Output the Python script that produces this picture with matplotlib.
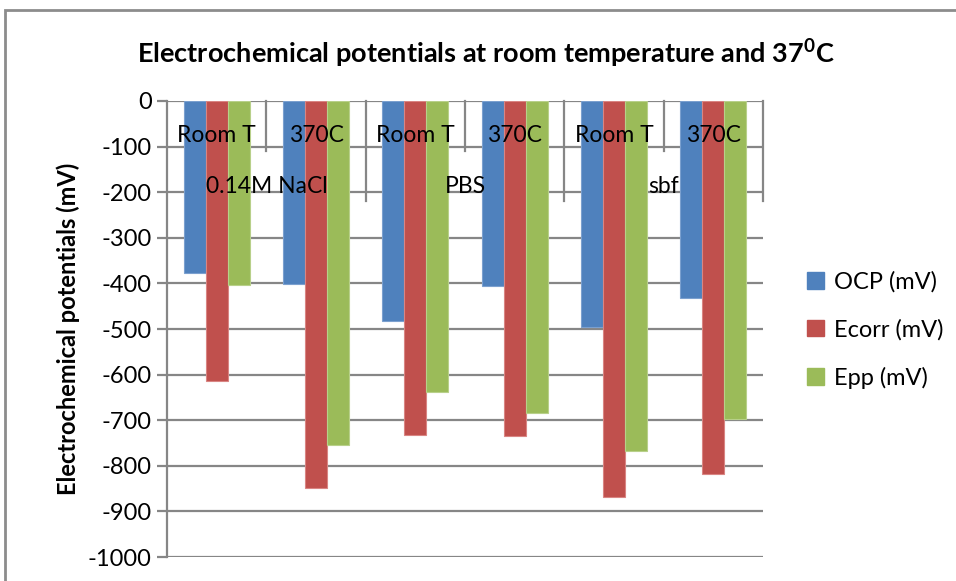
import matplotlib
matplotlib.use("Agg")
import matplotlib.pyplot as plt
from matplotlib.patches import Patch, Rectangle
import numpy as np

plt.rcParams['font.family'] = ['Lato', 'DejaVu Sans']
plt.rcParams['mathtext.fontset'] = 'custom'
plt.rcParams['mathtext.rm'] = 'Lato'
plt.rcParams['mathtext.bf'] = 'Lato:bold'
plt.rcParams['axes.unicode_minus'] = False

# Data (mV)
conditions = ['Room T', '370C', 'Room T', '370C', 'Room T', '370C']
media = ['0.14M NaCl', 'PBS', 'sbf']
ocp = [-377, -402, -482, -405, -495, -431]
ecorr = [-613, -849, -732, -735, -869, -817]
epp = [-403, -754, -639, -685, -768, -697]

series = ['OCP (mV)', 'Ecorr (mV)', 'Epp (mV)']
colors = ['#4F81BD', '#C0504D', '#9BBB59']
edges = ['#7BA0CF', '#D98583', '#B8D08A']
grid_col = '#868686'

fig = plt.figure(figsize=(9.56, 5.81), dpi=100)
ax = fig.add_axes([167 / 956, 1 - 557 / 581, (763 - 167) / 956, (557 - 101) / 581])

x = np.arange(len(conditions)) + 0.5
w = 0.222
for i, (vals, c, ec) in enumerate(zip([ocp, ecorr, epp], colors, edges)):
    ax.bar(x + (i - 1) * w, vals, width=w, color=c, edgecolor=ec, linewidth=0.8,
           label=series[i], zorder=3)

ax.set_xlim(0, 6)
ax.set_ylim(-1000, 0)
ax.set_yticks(np.arange(-1000, 1, 100))
ax.yaxis.grid(True, color=grid_col, linewidth=1.6, zorder=0)
ax.set_xticks([])
for s in ['top', 'right', 'bottom']:
    ax.spines[s].set_visible(False)
ax.spines['left'].set_color(grid_col)
ax.spines['left'].set_linewidth(1.6)
ax.tick_params(axis='y', length=7, width=1.6, color=grid_col, labelsize=17, pad=4)

# category axis sits along y = 0
for k in range(1, 7):
    depth = -110 if k % 2 else -220
    ax.plot([k, k], [0, depth], color=grid_col, linewidth=1.6, zorder=1, clip_on=False)
for xi, lab in zip(x, conditions):
    ax.text(xi, -76, lab, ha='center', va='center', fontsize=16.5, zorder=4)
for k, lab in enumerate(media):
    ax.text(2 * k + 1, -188, lab, ha='center', va='center', fontsize=16.5, zorder=4)

ax.set_ylabel('Electrochemical potentials (mV)', fontsize=17, fontweight='bold', labelpad=6)

fig.text(0.5 + 8 / 956, 1 - 53 / 581, r'Electrochemical potentials at room temperature and 37$^{\mathbf{0}}$C',
         ha='center', va='center', fontsize=19.5, fontweight='bold')

handles = [Patch(facecolor=c, edgecolor=c) for c in colors]
fig.legend(handles, series, loc='center left', bbox_to_anchor=(786 / 956, 1 - 330 / 581),
           frameon=False, fontsize=17, handlelength=0.7, handleheight=0.7,
           handletextpad=0.45, labelspacing=1.1)

fig.patches.append(Rectangle((5 / 956, -0.1), 2, 1.1 - 10 / 581, transform=fig.transFigure,
                             fill=False, edgecolor='#8C8C8C', linewidth=2))

fig.savefig('out.png', dpi=100, facecolor='white')
